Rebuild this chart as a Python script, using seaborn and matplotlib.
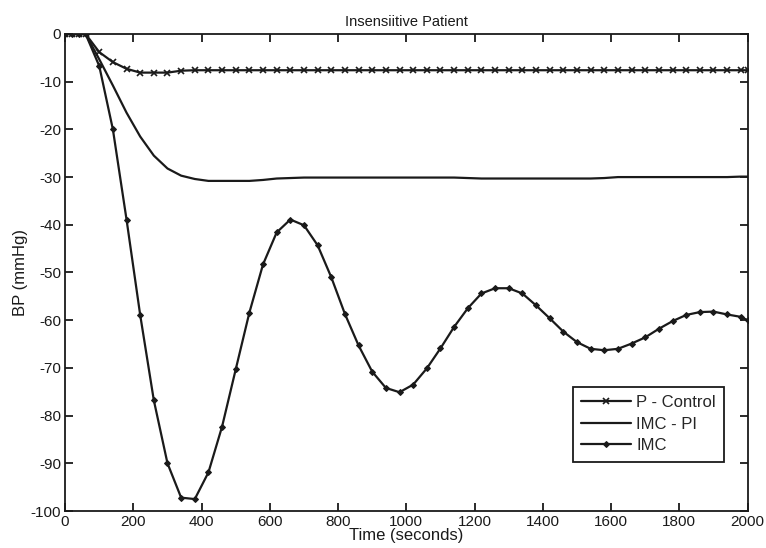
import numpy as np
import pandas as pd
import matplotlib
matplotlib.use("Agg")
import matplotlib.pyplot as plt
import seaborn as sns

# time samples (seconds)
time_s = [0, 20, 40, 60,
          100, 140, 180, 220, 260, 300, 340, 380, 420, 460,
          500, 540, 580, 620, 660, 700, 740, 780, 820, 860,
          900, 940, 980, 1020, 1060, 1100, 1140, 1180, 1220, 1260,
          1300, 1340, 1380, 1420, 1460, 1500, 1540, 1580, 1620, 1660,
          1700, 1740, 1780, 1820, 1860, 1900, 1940, 1980, 2000]

p_control = [0, 0, 0, 0,
             -3.8, -5.9, -7.3, -8.1, -8.1, -8.1, -7.7, -7.6, -7.6, -7.6,
             -7.6, -7.6, -7.6, -7.6, -7.6, -7.6, -7.6, -7.6, -7.6, -7.6,
             -7.6, -7.6, -7.6, -7.6, -7.6, -7.6, -7.6, -7.6, -7.6, -7.6,
             -7.6, -7.6, -7.6, -7.6, -7.6, -7.6, -7.6, -7.6, -7.6, -7.6,
             -7.6, -7.6, -7.6, -7.6, -7.6, -7.6, -7.6, -7.6, -7.6]

imc_pi = [0, 0, 0, 0,
          -5.3, -10.8, -16.5, -21.5, -25.5, -28.2, -29.7, -30.4, -30.8, -30.8,
          -30.8, -30.8, -30.6, -30.3, -30.2, -30.1, -30.1, -30.1, -30.1, -30.1,
          -30.1, -30.1, -30.1, -30.1, -30.1, -30.1, -30.1, -30.2, -30.3, -30.3,
          -30.3, -30.3, -30.3, -30.3, -30.3, -30.3, -30.3, -30.2, -30.0, -30.0,
          -30.0, -30.0, -30.0, -30.0, -30.0, -30.0, -30.0, -29.9, -29.9]

imc = [0, 0, 0, 0,
       -6.7, -20.0, -38.9, -58.9, -76.8, -90.0, -97.2, -97.5, -91.9, -82.3,
       -70.3, -58.4, -48.3, -41.6, -38.9, -40.1, -44.3, -51.0, -58.7, -65.3,
       -70.8, -74.2, -75.1, -73.5, -70.1, -65.9, -61.4, -57.5, -54.4, -53.3,
       -53.3, -54.4, -56.9, -59.6, -62.4, -64.6, -66.0, -66.3, -66.0, -64.9,
       -63.6, -61.8, -60.2, -58.9, -58.3, -58.2, -58.8, -59.3, -60.0]

df = pd.DataFrame({"t": time_s, "P - Control": p_control,
                   "IMC - PI": imc_pi, "IMC": imc})

sns.set_style("ticks")
plt.rcParams['font.family'] = ['Liberation Sans Narrow', 'Liberation Sans', 'DejaVu Sans']
plt.rcParams['axes.linewidth'] = 1.3
plt.rcParams['axes.unicode_minus'] = False

fig = plt.figure(figsize=(7.66, 5.48), dpi=100)
ax = fig.add_axes([0.085, 0.0675, 0.891, 0.8705])

ink = "#1a1a1a"
sns.lineplot(data=df, x="t", y="P - Control", ax=ax, color=ink, lw=1.6,
             marker="x", markersize=5, markeredgewidth=1.2,
             markeredgecolor=ink, label="P - Control")
sns.lineplot(data=df, x="t", y="IMC - PI", ax=ax, color=ink, lw=1.6,
             label="IMC - PI")
sns.lineplot(data=df, x="t", y="IMC", ax=ax, color=ink, lw=1.6,
             marker="D", markersize=3, markeredgewidth=0.8,
             markeredgecolor=ink, label="IMC")

ax.set_xlim(0, 2000)
ax.set_ylim(-100, 0)
ax.set_xticks(range(0, 2001, 200))
ax.set_yticks(range(-100, 1, 10))
ax.tick_params(direction="in", length=6, width=1.3, top=True, right=True,
               labelsize=11, colors=ink, pad=3)
for s in ax.spines.values():
    s.set_color(ink)
    s.set_visible(True)

ax.set_title("Insensiitive Patient", fontsize=10.5, pad=6, color=ink)
ax.set_xlabel("Time (seconds)", fontsize=12, labelpad=-1, color=ink)
ax.set_ylabel("BP (mmHg)", fontsize=12, labelpad=2, color=ink)

leg = ax.legend(loc="lower right", bbox_to_anchor=(0.978, 0.086),
                fontsize=12, frameon=True, fancybox=False, handlelength=3,
                borderpad=0.5, labelspacing=0.4, handletextpad=0.3)
leg.get_frame().set_edgecolor(ink)
leg.get_frame().set_linewidth(1.3)
leg.get_frame().set_alpha(1)

fig.savefig("out.png", dpi=100)
